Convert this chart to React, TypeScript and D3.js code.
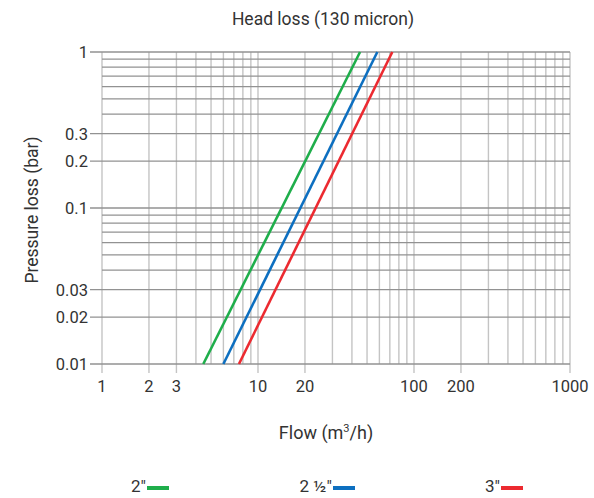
import React from "react";
import * as d3 from "d3";

const title = "Head loss (130 micron)";
const xLabel = "Flow (m³/h)";
const yLabel = "Pressure loss (bar)";
const xTickValues = [1, 2, 3, 10, 20, 100, 200, 1000];
const yTickValues = [0.01, 0.02, 0.03, 0.1, 0.2, 0.3, 1];
const seriesNames = ["2\"", "2 ½\"", "3\""];
const seriesColors = ["#1fae4b", "#0d6fc0", "#ec2a30"];
const green2: [number, number][] = [[4.46, 0.01], [45.1, 1]];
const blue25: [number, number][] = [[6.0, 0.01], [58.2, 1]];
const red3: [number, number][] = [[7.55, 0.01], [72.6, 1]];
const seriesData = [green2, blue25, red3];

function logGrid(min: number, max: number): number[] {
  const out: number[] = [];
  for (let d = min; d < max * 0.999; d *= 10) {
    for (let k = 1; k <= 9; k++) out.push(d * k);
  }
  out.push(max);
  return out;
}

export default function App() {
  const W = 594, H = 498;
  const x = d3.scaleLog().domain([1, 1000]).range([102, 570]);
  const y = d3.scaleLog().domain([0.01, 1]).range([364, 52]);
  const xGrid = logGrid(1, 1000);
  const yGrid = logGrid(0.01, 1);
  const line = d3.line<[number, number]>().x(d => x(d[0])).y(d => y(d[1]));
  const font = "Roboto, 'Noto Sans', sans-serif";
  const isXLab = (v: number) => xTickValues.some(t => Math.abs(t - v) / t < 1e-6);
  const isYLab = (v: number) => yTickValues.some(t => Math.abs(t - v) / t < 1e-6);
  const legendX = [147, 333, 501];
  return (
    <svg width={W} height={H} style={{ position: "absolute", left: 0, top: 0 }} fontFamily={font}>
      <rect width={W} height={H} fill="#fff" />
      {xGrid.map((v, i) => (
        <line key={"vx" + i} x1={x(v)} x2={x(v)} y1={52} y2={isXLab(v) ? 373 : 364}
          stroke="#c4c4c4" strokeWidth={1.4} />
      ))}
      {yGrid.map((v, i) => (
        <line key={"hy" + i} x1={isYLab(v) ? 90 : 102} x2={570} y1={y(v)} y2={y(v)}
          stroke="#929292" strokeWidth={1.3} />
      ))}
      {xTickValues.map((v, i) => (
        <text key={"xt" + i} x={x(v)} y={392} textAnchor="middle" fontSize={16.5} fill="#333">{v}</text>
      ))}
      {yTickValues.map((v, i) => (
        <text key={"yt" + i} x={88} y={y(v) + 6} textAnchor="end" fontSize={16.5} fill="#333">{v}</text>
      ))}
      {seriesData.map((s, i) => (
        <path key={"s" + i} d={line(s) || ""} fill="none" stroke={seriesColors[i]} strokeWidth={2.6} />
      ))}
      <text x={323} y={25} textAnchor="middle" fontSize={17.5} fill="#333">{title}</text>
      <text x={326} y={439} textAnchor="middle" fontSize={18} fill="#333">
        Flow (m<tspan dy={-7} fontSize={11}>3</tspan><tspan dy={7}>/h)</tspan>
      </text>
      <text transform="translate(38,210) rotate(-90)" textAnchor="middle" fontSize={17.5} fill="#333">{yLabel}</text>
      {seriesNames.map((n, i) => (
        <g key={"lg" + i}>
          <text x={legendX[i] - 1} y={492} textAnchor="end" fontSize={17} fill="#333">{n}</text>
          <rect x={legendX[i]} y={486} width={22} height={4} fill={seriesColors[i]} />
        </g>
      ))}
    </svg>
  );
}
